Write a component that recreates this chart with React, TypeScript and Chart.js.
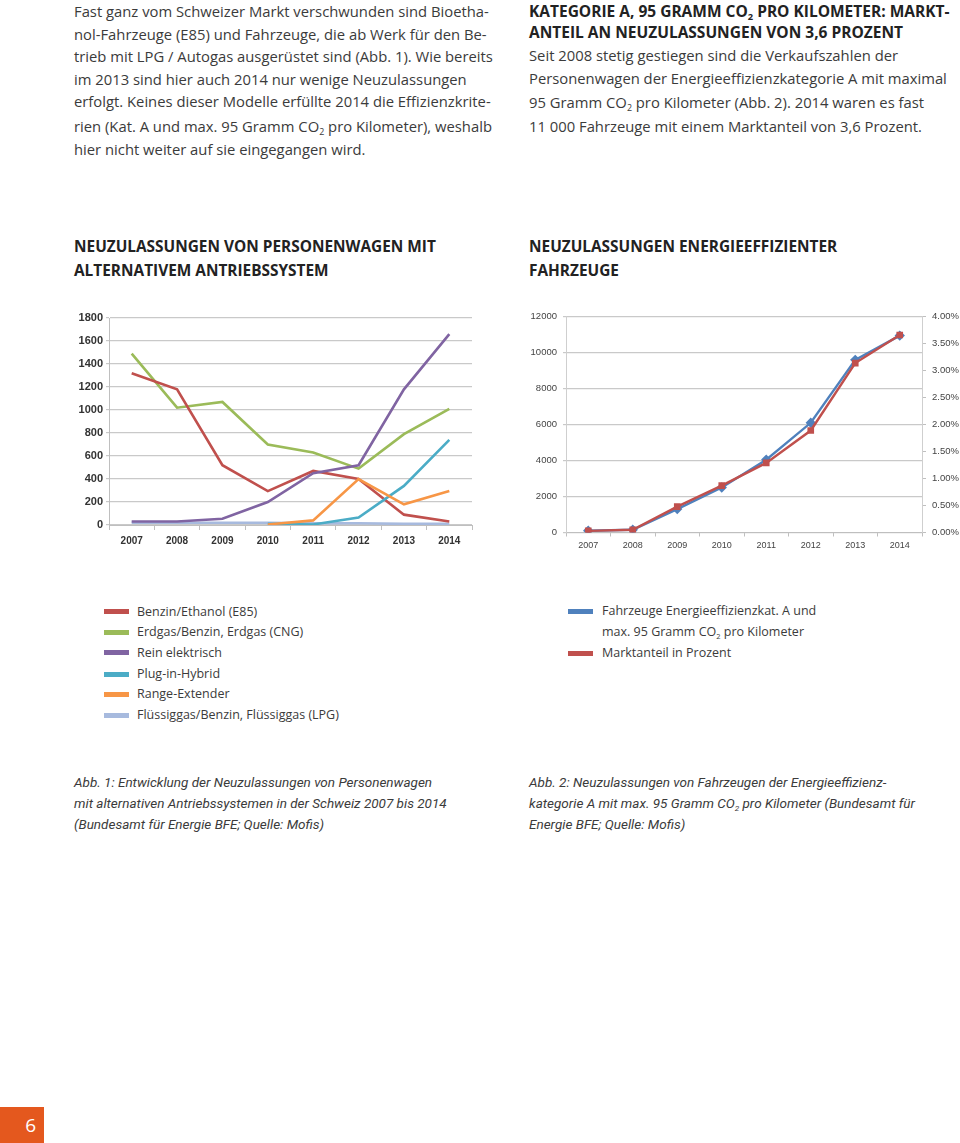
import React, { useEffect, useRef } from "react";
import { Chart, registerables } from "chart.js";
Chart.register(...registerables);

// ---------- Data: Abb. 1 ----------
const years = ["2007", "2008", "2009", "2010", "2011", "2012", "2013", "2014"];
const e85 = [1320, 1180, 520, 295, 470, 400, 90, 30];
const cng = [1490, 1020, 1070, 700, 630, 490, 790, 1010];
const electric = [30, 30, 55, 200, 450, 520, 1180, 1660];
const pluginHybrid = [null, null, null, 10, 5, 65, 340, 740];
const rangeExtender = [null, null, null, 5, 40, 400, 180, 295];
const lpg = [20, 20, 20, 20, 15, 15, 10, 10];
const leftNames = [
  "Benzin/Ethanol (E85)",
  "Erdgas/Benzin, Erdgas (CNG)",
  "Rein elektrisch",
  "Plug-in-Hybrid",
  "Range-Extender",
  "Flüssiggas/Benzin, Flüssiggas (LPG)",
];
const leftColors = ["#c0504d", "#9bbb59", "#8064a2", "#4bacc6", "#f79646", "#a7bade"];

// ---------- Data: Abb. 2 ----------
const effYears = ["2007", "2008", "2009", "2010", "2011", "2012", "2013", "2014"];
const effVehicles = [100, 150, 1300, 2500, 4050, 6100, 9600, 10950];
const effShare = [0.03, 0.05, 0.48, 0.87, 1.29, 1.89, 3.14, 3.66];
const rightColors = ["#4f81bd", "#c0504d"];

const TEXT = "#3b3b3b";
const BODY_FONT = "'Open Sans', 'Noto Sans', sans-serif";

function LeftChart() {
  const ref = useRef<HTMLCanvasElement | null>(null);
  useEffect(() => {
    if (!ref.current) return;
    const series = [e85, cng, electric, pluginHybrid, rangeExtender, lpg];
    const chart = new Chart(ref.current, {
      type: "line",
      data: {
        labels: years,
        datasets: series.map((d, i) => ({
          label: leftNames[i],
          data: d as any,
          borderColor: leftColors[i],
          backgroundColor: leftColors[i],
          borderWidth: 2.6,
          pointRadius: 0,
          tension: 0,
          order: [3, 4, 0, 2, 1, 5][i],
        })),
      },
      options: {
        animation: false,
        responsive: false,
        maintainAspectRatio: false,
        layout: { padding: { top: 13, right: 8, left: 0, bottom: 0 } },
        plugins: { legend: { display: false }, tooltip: { enabled: false } },
        scales: {
          x: {
            offset: true,
            grid: { display: true, drawOnChartArea: false, offset: true, tickLength: 5, color: "#bfbfbf" },
            border: { color: "#bfbfbf" },
            ticks: {
              font: { family: "'Liberation Sans', Arial, sans-serif", size: 10, weight: "bold" },
              color: "#333",
              padding: 5,
              maxRotation: 0,
            },
            afterFit: (a: any) => {
              a.height = 30;
            },
          },
          y: {
            min: 0,
            max: 1800,
            ticks: {
              stepSize: 200,
              font: { family: "'Liberation Sans', Arial, sans-serif", size: 11, weight: "bold" },
              color: "#333",
              padding: 3,
              callback: (v: any) => String(v),
            },
            grid: { color: "#c9c9c9", tickLength: 3, lineWidth: 1.2 },
            border: { color: "#bfbfbf" },
            afterFit: (a: any) => {
              a.width = 49;
            },
          },
        },
      },
    });
    return () => chart.destroy();
  }, []);
  return (
    <canvas
      ref={ref}
      width={420}
      height={250}
      style={{ position: "absolute", left: 60, top: 305, width: 420, height: 250 }}
    />
  );
}

function RightChart() {
  const ref = useRef<HTMLCanvasElement | null>(null);
  useEffect(() => {
    if (!ref.current) return;
    const chart = new Chart(ref.current, {
      type: "line",
      data: {
        labels: effYears,
        datasets: [
          {
            label: "Fahrzeuge Energieeffizienzkat. A und max. 95 Gramm CO2 pro Kilometer",
            data: effVehicles,
            yAxisID: "y",
            borderColor: rightColors[0],
            backgroundColor: rightColors[0],
            borderWidth: 2.4,
            pointStyle: "rectRot",
            pointRadius: 3.5,
            tension: 0,
            order: 1,
          },
          {
            label: "Marktanteil in Prozent",
            data: effShare,
            yAxisID: "y1",
            borderColor: rightColors[1],
            backgroundColor: rightColors[1],
            borderWidth: 2.4,
            pointStyle: "rect",
            pointRadius: 3,
            tension: 0,
            order: 0,
          },
        ],
      },
      options: {
        animation: false,
        responsive: false,
        maintainAspectRatio: false,
        layout: { padding: { top: 10.5, right: 0, left: 0, bottom: 0 } },
        plugins: { legend: { display: false }, tooltip: { enabled: false } },
        scales: {
          x: {
            offset: true,
            grid: { display: true, drawOnChartArea: false, offset: true, tickLength: 4, color: "#bfbfbf" },
            border: { color: "#bfbfbf" },
            ticks: {
              font: { family: "'Liberation Sans', Arial, sans-serif", size: 9 },
              color: "#444",
              padding: 4,
              maxRotation: 0,
            },
            afterFit: (a: any) => {
              a.height = 22.5;
            },
          },
          y: {
            position: "left",
            min: 0,
            max: 12000,
            ticks: {
              stepSize: 2000,
              font: { family: "'Liberation Sans', Arial, sans-serif", size: 9.5 },
              color: "#444",
              padding: 6,
              callback: (v: any) => String(v),
            },
            grid: { color: "#c9c9c9", tickLength: 3, lineWidth: 1.2 },
            border: { color: "#cfcfcf" },
            afterFit: (a: any) => {
              a.width = 46;
            },
          },
          y1: {
            position: "right",
            min: 0,
            max: 4,
            ticks: {
              stepSize: 0.5,
              font: { family: "'Liberation Sans', Arial, sans-serif", size: 9.5 },
              color: "#444",
              padding: 6,
              callback: (v: any) => Number(v).toFixed(2) + "%",
            },
            grid: { drawOnChartArea: false, tickLength: 4, color: "#bfbfbf" },
            border: { color: "#cfcfcf" },
            afterFit: (a: any) => {
              a.width = 38;
            },
          },
        },
      },
    });
    return () => chart.destroy();
  }, []);
  return (
    <canvas
      ref={ref}
      width={440}
      height={250}
      style={{ position: "absolute", left: 520, top: 305, width: 440, height: 250 }}
    />
  );
}

const Sub = () => (
  <sub style={{ fontSize: "0.6em", verticalAlign: "-0.35em", lineHeight: 0 }}>2</sub>
);

function L(props: {
  x: number;
  y: number;
  h?: number;
  children: React.ReactNode;
  style?: React.CSSProperties;
}) {
  const h = props.h ?? 20;
  return (
    <div
      style={{
        position: "absolute",
        left: props.x,
        top: props.y - h / 2,
        height: h,
        lineHeight: h + "px",
        whiteSpace: "nowrap",
        ...props.style,
      }}
    >
      {props.children}
    </div>
  );
}

export default function App() {
  const body: React.CSSProperties = { fontFamily: BODY_FONT, fontSize: 14.8, color: TEXT };
  const head: React.CSSProperties = {
    fontFamily: BODY_FONT,
    fontSize: 15.5,
    fontWeight: 700,
    color: "#222",
  };
  const chartHead: React.CSSProperties = {
    fontFamily: BODY_FONT,
    fontSize: 15.4,
    fontWeight: 700,
    color: "#222",
  };
  const legend: React.CSSProperties = { fontFamily: BODY_FONT, fontSize: 12.5, color: TEXT };
  const caption: React.CSSProperties = {
    fontFamily: "Roboto, 'Noto Sans', sans-serif",
    fontStyle: "italic",
    fontSize: 13.5,
    color: TEXT,
  };
  const leftY = [611.7, 632.3, 652.7, 674, 694.3, 715];
  return (
    <div
      style={{
        position: "absolute",
        left: 0,
        top: 0,
        width: 960,
        height: 1143,
        background: "#fff",
        overflow: "hidden",
      }}
    >
      {/* Left paragraph */}
      <L x={74} y={11} style={body}>Fast ganz vom Schweizer Markt verschwunden sind Bioetha-</L>
      <L x={74} y={33.5} style={body}>nol-Fahrzeuge (E85) und Fahrzeuge, die ab Werk für den Be-</L>
      <L x={74} y={56} style={body}>trieb mit LPG / Autogas ausgerüstet sind (Abb. 1). Wie bereits</L>
      <L x={74} y={78.5} style={body}>im 2013 sind hier auch 2014 nur wenige Neuzulassungen</L>
      <L x={74} y={101} style={body}>erfolgt. Keines dieser Modelle erfüllte 2014 die Effizienzkrite-</L>
      <L x={74} y={126} style={body}>
        rien (Kat. A und max. 95 Gramm CO<Sub /> pro Kilometer), weshalb
      </L>
      <L x={74} y={149} style={body}>hier nicht weiter auf sie eingegangen wird.</L>

      {/* Right paragraph */}
      <L x={529} y={10.5} style={head}>
        KATEGORIE A, 95 GRAMM CO<Sub /> PRO KILOMETER: MARKT-
      </L>
      <L x={529} y={32} style={head}>ANTEIL AN NEUZULASSUNGEN VON 3,6 PROZENT</L>
      <L x={529} y={55} style={body}>Seit 2008 stetig gestiegen sind die Verkaufszahlen der</L>
      <L x={529} y={78} style={body}>Personenwagen der Energieeffizienzkategorie A mit maximal</L>
      <L x={529} y={102} style={body}>
        95 Gramm CO<Sub /> pro Kilometer (Abb. 2). 2014 waren es fast
      </L>
      <L x={529} y={126} style={body}>11 000 Fahrzeuge mit einem Marktanteil von 3,6 Prozent.</L>

      {/* Chart headings */}
      <L x={74} y={247} style={chartHead}>NEUZULASSUNGEN VON PERSONENWAGEN MIT</L>
      <L x={74} y={271} style={chartHead}>ALTERNATIVEM ANTRIEBSSYSTEM</L>
      <L x={529} y={247} style={chartHead}>NEUZULASSUNGEN ENERGIEEFFIZIENTER</L>
      <L x={529} y={271} style={chartHead}>FAHRZEUGE</L>

      <LeftChart />
      <RightChart />

      {/* Left legend */}
      {leftNames.map((n, i) => (
        <React.Fragment key={n}>
          <div
            style={{
              position: "absolute",
              left: 104,
              top: leftY[i] - 2.5,
              width: 25,
              height: 5,
              background: leftColors[i],
            }}
          />
          <L x={137} y={leftY[i]} h={18} style={legend}>
            {n}
          </L>
        </React.Fragment>
      ))}

      {/* Right legend */}
      <div style={{ position: "absolute", left: 568, top: 611 - 2.5, width: 25, height: 5, background: rightColors[0] }} />
      <L x={602} y={611} h={18} style={legend}>Fahrzeuge Energieeffizienzkat. A und</L>
      <L x={602} y={632} h={18} style={legend}>
        max. 95 Gramm CO<Sub /> pro Kilometer
      </L>
      <div style={{ position: "absolute", left: 568, top: 653 - 2.5, width: 25, height: 5, background: rightColors[1] }} />
      <L x={602} y={653} h={18} style={legend}>Marktanteil in Prozent</L>

      {/* Captions */}
      <L x={74} y={782} h={19} style={caption}>Abb. 1: Entwicklung der Neuzulassungen von Personenwagen</L>
      <L x={74} y={803} h={19} style={caption}>mit alternativen Antriebssystemen in der Schweiz 2007 bis 2014</L>
      <L x={74} y={824} h={19} style={caption}>(Bundesamt für Energie BFE; Quelle: Mofis)</L>
      <L x={529} y={782} h={19} style={caption}>Abb. 2: Neuzulassungen von Fahrzeugen der Energieeffizienz-</L>
      <L x={529} y={803} h={19} style={caption}>
        kategorie A mit max. 95 Gramm CO<Sub /> pro Kilometer (Bundesamt für
      </L>
      <L x={529} y={824} h={19} style={caption}>Energie BFE; Quelle: Mofis)</L>

      {/* Page number */}
      <div
        style={{
          position: "absolute",
          left: 0,
          top: 1107,
          width: 44,
          height: 36,
          background: "#e4581e",
          color: "#fff",
          fontFamily: BODY_FONT,
          fontSize: 19,
          lineHeight: "36px",
          textAlign: "right",
          paddingRight: 8,
          boxSizing: "border-box",
        }}
      >
        6
      </div>
    </div>
  );
}
